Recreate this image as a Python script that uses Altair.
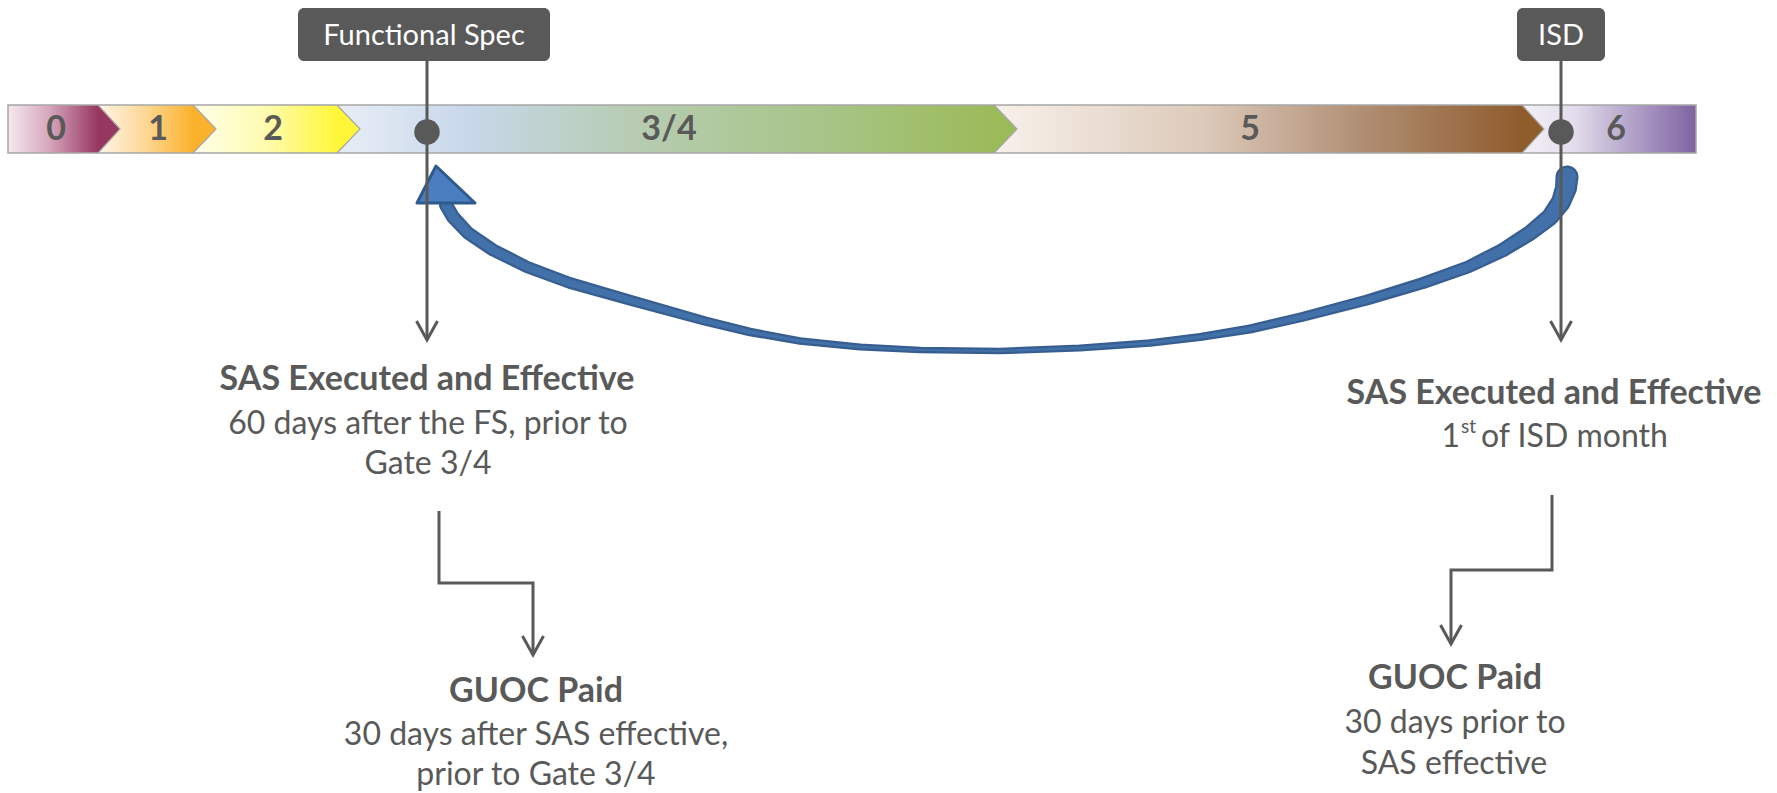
import altair as alt
import pandas as pd

W, H = 1777, 793
FONT = "Lato"
INK = "#595959"

# ---------------- phase bar ----------------
phase_labels = ["0", "1", "2", "3/4", "5", "6"]
phase_start = [8, 98, 193, 337, 994, 1522]
phase_end = [98, 193, 337, 994, 1522, 1696]
phase_tip = [120, 216, 360, 1017, 1544, None]
phase_label_x = [56, 158, 273, 669, 1250, 1616]
phase_gradients = [
    [("#F6E8EF", 0.0), ("#D7A8BE", 0.45), ("#973760", 1.0)],
    [("#FFF6E8", 0.0), ("#FDD794", 0.5), ("#FBB22C", 1.0)],
    [("#FFFFEA", 0.0), ("#FFFBB0", 0.5), ("#FFF73A", 1.0)],
    [("#E8EEF7", 0.0), ("#C8D7EA", 0.2), ("#B7CCB2", 0.45), ("#A8C486", 0.75), ("#9BBB59", 1.0)],
    [("#F8F1EB", 0.0), ("#DCC9B9", 0.4), ("#B08E74", 0.7), ("#8F5C2C", 1.0)],
    [("#F3F1F7", 0.0), ("#E2DDEC", 0.3), ("#A996C2", 0.7), ("#7F63A1", 1.0)],
]
tip_colors = ["#963760", "#FBB22C", "#FFF63A", "#9BBB59", "#8F5C2C", None]
bar_top, bar_bottom, bar_mid = 105, 153, 129

# ---------------- milestones ----------------
ms_names = ["Functional Spec", "ISD"]
ms_x = [427, 1561]
ms_box_x0 = [298, 1517]
ms_box_x1 = [550, 1605]
ms_box_y0, ms_box_y1 = 8, 61
ms_arrow_end = 340

# ---------------- notes ----------------
note_bold = ["SAS Executed and Effective", "GUOC Paid", "SAS Executed and Effective", "GUOC Paid"]
note_bold_x = [427, 536, 1554, 1455]
note_bold_y = [380, 692, 394, 679]
note_text = ["60 days after the FS, prior to", "Gate 3/4", "30 days after SAS effective,",
             "prior to Gate 3/4", "of ISD month", "1", "30 days prior to", "SAS effective"]
note_text_x = [428, 428, 536, 536, 1481, 1460, 1455, 1454]
note_text_y = [424, 464, 735, 775, 437, 437, 723, 764]
note_text_align = ["center", "center", "center", "center", "left", "right", "center", "center"]
sup_text, sup_x, sup_y = "st", 1461, 427

# step connectors (two elbow arrows)
step_x = [[439, 439, 533, 533], [1552, 1552, 1451, 1451]]
step_y = [[511, 583, 583, 655], [495, 570, 570, 644]]

# ---------------- curved feedback arrow ----------------
curve_x = [1567, 1566, 1561, 1550, 1530, 1503, 1468, 1423, 1367, 1302, 1250, 1200,
           1150, 1080, 1000, 920, 860, 800, 750, 705, 633, 570, 527, 493, 468, 453, 446]
curve_y = [177, 188, 202, 217, 233, 250, 267, 283, 300, 317, 329, 337,
           343, 348, 351, 350, 347, 341, 332, 321, 301, 283, 267, 250, 233, 217, 205]
curve_w = [23, 22, 20, 18, 16, 14.5, 13, 12, 11, 10, 9, 8,
           7.5, 7, 6.5, 6.5, 7, 7.5, 8.5, 9.5, 11, 12, 12.5, 13, 13.5, 14, 14]
head_x = [417, 436, 475]
head_y = [203, 166, 203]

# =====================================================
XS = alt.Scale(domain=[0, W], nice=False, zero=False)
YS = alt.Scale(domain=[0, H], nice=False, zero=False, reverse=True)


def X(f="x"):
    return alt.X(f"{f}:Q", scale=XS, axis=None)


def Y(f="y"):
    return alt.Y(f"{f}:Q", scale=YS, axis=None)


def grad(stops):
    return alt.LinearGradient(
        gradient="linear", x1=0, y1=0, x2=1, y2=0,
        stops=[alt.GradientStop(color=c, offset=o) for c, o in stops])


layers = []

# phase bodies
for i, lab in enumerate(phase_labels):
    d = pd.DataFrame({"x": [phase_start[i]], "x2": [phase_end[i]],
                      "y": [bar_top], "y2": [bar_bottom]})
    layers.append(alt.Chart(d).mark_rect(fill=grad(phase_gradients[i]), stroke=None).encode(
        x=X(), x2="x2:Q", y=Y(), y2="y2:Q"))

# chevron tips
tip_rows, edge_rows = [], []
for i, lab in enumerate(phase_labels):
    if phase_tip[i] is None:
        continue
    tip_rows += [
        {"p": lab, "x": phase_end[i], "y": bar_top, "y2": bar_bottom, "c": tip_colors[i]},
        {"p": lab, "x": phase_tip[i], "y": bar_mid, "y2": bar_mid, "c": tip_colors[i]},
    ]
    edge_rows += [
        {"p": lab, "o": 0, "x": phase_end[i], "y": bar_top},
        {"p": lab, "o": 1, "x": phase_tip[i], "y": bar_mid},
        {"p": lab, "o": 2, "x": phase_end[i], "y": bar_bottom},
    ]
tips = pd.DataFrame(tip_rows)
layers.append(alt.Chart(tips).mark_area(interpolate="linear").encode(
    x=X(), y=Y(), y2="y2:Q", detail="p:N",
    color=alt.Color("c:N", scale=None, legend=None)))
edges = pd.DataFrame(edge_rows)
layers.append(alt.Chart(edges).mark_line(color="#A6A6A6", strokeWidth=1.2).encode(
    x=X(), y=Y(), detail="p:N", order="o:Q"))

# bar outline
outline = pd.DataFrame({"x": [phase_start[0]], "x2": [phase_end[-1]], "y": [bar_top], "y2": [bar_bottom]})
layers.append(alt.Chart(outline).mark_rect(fillOpacity=0, stroke="#A6A6A6", strokeWidth=1.5).encode(
    x=X(), x2="x2:Q", y=Y(), y2="y2:Q"))

# phase labels
pl = pd.DataFrame({"x": phase_label_x, "y": [bar_mid + 1] * 6, "t": phase_labels})
layers.append(alt.Chart(pl).mark_text(font=FONT, fontSize=34, fontWeight="bold", color=INK,
                                      align="center", baseline="middle").encode(
    x=X(), y=Y(), text="t:N"))

# curved feedback arrow (under the grey lines)
cv = pd.DataFrame({"x": curve_x, "y": curve_y, "w": curve_w, "i": list(range(len(curve_x)))})
cv["wi"] = (cv["w"] - 4.5).clip(lower=1.5)
layers.append(alt.Chart(cv).mark_trail(color="#375E90").encode(
    x=X(), y=Y(), order="i:Q", size=alt.Size("w:Q", scale=None, legend=None)))
layers.append(alt.Chart(cv).mark_trail(color="#4270A8").encode(
    x=X(), y=Y(), order="i:Q", size=alt.Size("wi:Q", scale=None, legend=None)))
hd = pd.DataFrame({"x": head_x, "y": head_y, "y2": [203, 203, 203]})
layers.append(alt.Chart(hd).mark_area(fill="#4A7EC0", stroke="#2F5A8C", strokeWidth=3,
                                      strokeJoin="round", interpolate="linear").encode(
    x=X(), y=Y(), y2="y2:Q"))

# milestone stems
stems = pd.DataFrame({"x": ms_x, "y": [ms_box_y1] * 2, "y2": [ms_arrow_end] * 2})
layers.append(alt.Chart(stems).mark_rule(color=INK, strokeWidth=3).encode(
    x=X(), y=Y(), y2="y2:Q"))

# arrow heads (open V) for stems and steps
vh_rows = []
tips_xy = [(ms_x[0], ms_arrow_end), (ms_x[1], ms_arrow_end),
           (step_x[0][-1], step_y[0][-1]), (step_x[1][-1], step_y[1][-1])]
for k, (tx, ty) in enumerate(tips_xy):
    vh_rows += [{"g": k, "o": 0, "x": tx - 10.5, "y": ty - 19},
                {"g": k, "o": 1, "x": tx, "y": ty},
                {"g": k, "o": 2, "x": tx + 10.5, "y": ty - 19}]
layers.append(alt.Chart(pd.DataFrame(vh_rows)).mark_line(color=INK, strokeWidth=3).encode(
    x=X(), y=Y(), detail="g:N", order="o:Q"))

# step connectors
st_rows = []
for k in range(2):
    for j in range(4):
        st_rows.append({"g": k, "o": j, "x": step_x[k][j], "y": step_y[k][j]})
layers.append(alt.Chart(pd.DataFrame(st_rows)).mark_line(color=INK, strokeWidth=3,
                                                         strokeJoin="miter").encode(
    x=X(), y=Y(), detail="g:N", order="o:Q"))

# milestone boxes
bx = pd.DataFrame({"x": ms_box_x0, "x2": ms_box_x1, "y": [ms_box_y0] * 2, "y2": [ms_box_y1] * 2})
layers.append(alt.Chart(bx).mark_rect(color=INK, cornerRadius=6).encode(
    x=X(), x2="x2:Q", y=Y(), y2="y2:Q"))
bl = pd.DataFrame({"x": [(a + b) / 2 for a, b in zip(ms_box_x0, ms_box_x1)],
                   "y": [(ms_box_y0 + ms_box_y1) / 2 + 1] * 2, "t": ms_names})
layers.append(alt.Chart(bl).mark_text(font=FONT, fontSize=29, color="white",
                                      align="center", baseline="middle").encode(
    x=X(), y=Y(), text="t:N"))

# milestone dots
dots = pd.DataFrame({"x": ms_x, "y": [132, 132]})
layers.append(alt.Chart(dots).mark_point(shape="circle", filled=True, size=650, color=INK,
                                         opacity=1).encode(x=X(), y=Y()))

# note texts
nb = pd.DataFrame({"x": note_bold_x, "y": note_bold_y, "t": note_bold})
layers.append(alt.Chart(nb).mark_text(font=FONT, fontSize=34, fontWeight="bold", color=INK,
                                      align="center", baseline="middle").encode(
    x=X(), y=Y(), text="t:N"))
for al in ["center", "left", "right"]:
    rows = [(x, y, t) for x, y, t, a in zip(note_text_x, note_text_y, note_text, note_text_align) if a == al]
    nt = pd.DataFrame(rows, columns=["x", "y", "t"])
    layers.append(alt.Chart(nt).mark_text(font=FONT, fontSize=32, color=INK,
                                          align=al, baseline="middle").encode(
        x=X(), y=Y(), text="t:N"))
sp = pd.DataFrame({"x": [sup_x], "y": [sup_y], "t": [sup_text]})
layers.append(alt.Chart(sp).mark_text(font=FONT, fontSize=19, color=INK,
                                      align="left", baseline="middle").encode(
    x=X(), y=Y(), text="t:N"))

chart = alt.layer(*layers).properties(
    width=W, height=H, padding=0, autosize=alt.AutoSizeParams(type="none"),
    background="white"
).configure_view(stroke=None)

chart.save("out.html", embed_options={"renderer": "svg", "actions": False})
